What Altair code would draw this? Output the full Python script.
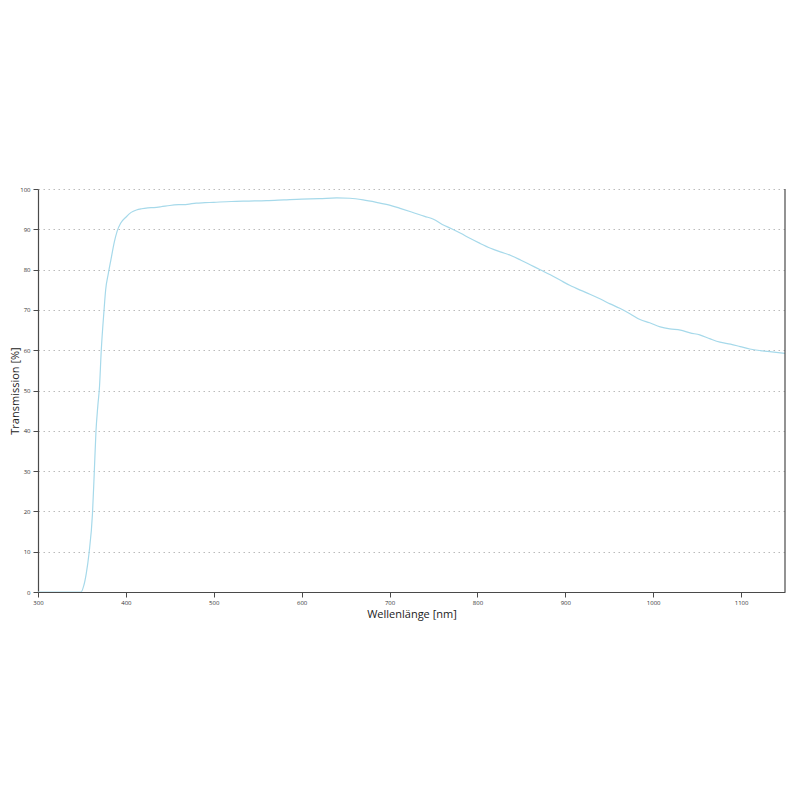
import altair as alt
import pandas as pd

wavelength = [300, 310, 320, 330, 340, 349, 352, 355, 358, 362, 364, 366, 368, 370, 372, 375, 377,
              380, 383, 387, 390, 394, 400, 406, 412, 418, 425, 432, 440, 450, 460, 470, 480, 490,
              500, 520, 540, 560, 580, 600, 620, 640, 655, 670, 685, 700, 712, 725, 740, 750, 760,
              770, 781, 792, 803, 815, 826, 838, 849, 860, 872, 883, 894, 905, 917, 928, 940, 951,
              962, 974, 985, 996, 1008, 1019, 1031, 1042, 1053, 1065, 1076, 1088, 1099, 1110, 1122,
              1135, 1150]
transmission = [0, 0, 0, 0, 0, 0, 1.5, 4.7, 9.5, 19.5, 29.5, 40, 46, 51, 60, 69.5, 75,
                79, 82.5, 87, 89.5, 91.5, 93, 94.2, 94.8, 95.1, 95.3, 95.4, 95.6, 95.9, 96.1, 96.2, 96.5, 96.6,
                96.7, 96.9, 97.0, 97.1, 97.3, 97.5, 97.6, 97.8, 97.7, 97.3, 96.7, 96.0, 95.2, 94.3, 93.2, 92.5, 91.2,
                90.2, 89.0, 87.7, 86.5, 85.3, 84.4, 83.5, 82.4, 81.2, 79.9, 78.7, 77.4, 76.1, 74.9, 73.9, 72.7, 71.5,
                70.4, 69.0, 67.6, 66.8, 65.8, 65.3, 65.0, 64.3, 63.8, 62.8, 62.0, 61.5, 60.9, 60.3, 59.9,
                59.6, 59.2]
x_ticks = [300, 400, 500, 600, 700, 800, 900, 1000, 1100]
y_ticks = [0, 10, 20, 30, 40, 50, 60, 70, 80, 90, 100]

df = pd.DataFrame({"wl": wavelength, "t": transmission})

axis_color = "#4a4a4a"
font = "Open Sans"

line = alt.Chart(df).mark_line(color="#a6d9ea", strokeWidth=1.2, clip=True,
                               interpolate="monotone").encode(
    x=alt.X("wl:Q", scale=alt.Scale(domain=[300, 1150], nice=False, zero=False),
            axis=alt.Axis(values=x_ticks, format="d", title="Wellenlänge [nm]", grid=False,
                          labelFlush=False,
                          domainColor=axis_color, tickColor=axis_color, tickSize=5,
                          labelFontSize=6, labelColor="#333", labelPadding=2,
                          titleFontSize=11, titleFont=font, titleFontWeight="normal",
                          titleColor="#222", titlePadding=3, labelFont=font)),
    y=alt.Y("t:Q", scale=alt.Scale(domain=[0, 100], nice=False),
            axis=alt.Axis(values=y_ticks, format="d", title="Transmission [%]", grid=True,
                          labelFlush=False,
                          gridColor="#bbbbbb", gridDash=[1.5, 3.5], gridWidth=1,
                          domainColor=axis_color, tickColor=axis_color, tickSize=5,
                          labelFontSize=6, labelColor="#333", labelPadding=3,
                          titleFontSize=11, titleFont=font, titleFontWeight="normal",
                          titleColor="#222", titleX=-18, titleY=201.5, titleAnchor="middle",
                          labelFont=font)),
)

right = alt.Chart(pd.DataFrame({"x": [1150]})).mark_rule(color=axis_color, strokeWidth=1.2).encode(
    x="x:Q"
)

chart = alt.layer(line, right).properties(
    width=747, height=403,
    autosize=alt.AutoSizeParams(type="none"),
    padding={"left": 30, "top": 181, "right": 7, "bottom": 200},
).configure_view(stroke=None).configure_axis(domainWidth=1.2)

chart.save("out.html", embed_options={"renderer": "svg", "actions": False})
